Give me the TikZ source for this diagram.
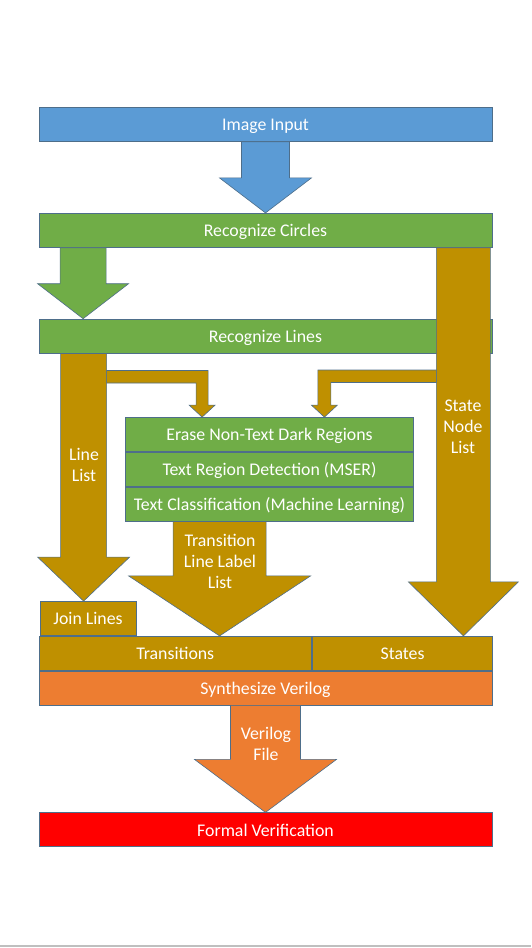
\documentclass[tikz,border=0pt]{standalone}
\usepackage{fontspec}
\setmainfont{Carlito}
\usepackage{xcolor}
\usepackage{tikz}
\usetikzlibrary{positioning, calc}

\definecolor{officeblue}{HTML}{5B9BD5}
\definecolor{officegreen}{HTML}{70AD47}
\definecolor{officegold}{HTML}{BF9000}
\definecolor{officeorange}{HTML}{ED7D31}
\definecolor{officered}{HTML}{FF0000}
\definecolor{edge}{HTML}{4E6E8A}

% straight block arrow going down: x from #2, tip at y of #3
\newcommand{\blockarrow}[6][]{%
	\draw[arrowbody,#1] let \p1=#2, \p2=#3 in
		(\x1-#4,\y1) -- (\x1+#4,\y1) -- (\x1+#4,\y2+#6) -- (\x1+#5,\y2+#6)
		-- (\x1,\y2) -- (\x1-#5,\y2+#6) -- (\x1-#4,\y2+#6) -- cycle;}
% bent block arrow: bar from #2 sideways, then down to tip #3
\newcommand{\elbowarrow}[5][]{%
	\draw[arrowbody,#1] let \p1=#2, \p2=#3 in
		(\x1,\y1) -- ({\x2+(#4)},\y1) -- ({\x2+(#4)},{\y2+12}) -- ({\x2+(#5)},{\y2+12})
		-- (\x2,\y2) -- ({\x2-(#5)},{\y2+12}) -- ({\x2-(#4)},{\y2+12})
		-- ({\x2-(#4)},{\y1-12.5}) -- (\x1,{\y1-12.5}) -- cycle;}

\begin{document}
\begin{tikzpicture}[x=1pt, y=-1pt]
		\tikzset{
			bar/.style={rectangle, draw=edge, line width=0.8pt, text=white, inner sep=0pt,
			text height=14pt, text depth=1.6pt,
			minimum width=453, minimum height=34, font=\fontsize{17.8}{21}\selectfont},
			stackbox/.style={bar, fill=officegreen, minimum width=288},
			arrowbody/.style={draw=edge, line width=0.6pt, fill=officegold},
			armtext/.style={text=white, align=center, inner sep=0pt, font=\fontsize{17.8}{21}\selectfont}
		}
		\useasboundingbox (0,0) rectangle (531,948);

		\node[bar, fill=officeblue](input) at (265.5,124.5){Image Input};
		\node[bar, fill=officegreen, below=71pt of input](circles){Recognize Circles};
		\node[bar, fill=officegreen, below=71pt of circles](lines){Recognize Lines};

		\node[stackbox](erase) at (269.5,434.5){Erase Non-Text Dark Regions};
		\node[stackbox, below=0pt of erase](mser){Text Region Detection (MSER)};
		\node[stackbox, below=0pt of mser](classify){Text Classification (Machine Learning)};

		\node[bar, fill=officegold, minimum width=272.5](transitions) at (175.25,653.3){Transitions};
		\node[bar, fill=officegold, minimum width=180.5, right=0pt of transitions](states){States};
		\node[bar, fill=officegold, minimum width=96, anchor=south west](joinlines)
			at ($(transitions.north west)+(1,0)$){Join Lines};
		\node[bar, fill=officeorange](synth) at (265.5,688){Synthesize Verilog};
		\node[bar, fill=officered, below=107pt of synth](formal){Formal Verification};

		\blockarrow[fill=officeblue]{(input.south)}{(circles.north)}{24}{46}{35}
		\blockarrow[fill=officegreen]{($(circles.south west)+(44.5,0)$)}{(lines.north)}{23}{45.5}{35}
		\blockarrow{($(lines.south west)+(45,0)$)}{(joinlines.north)}{23}{46}{44}
		\blockarrow{($(circles.south east)+(-29,0)$)}{(states.north)}{27}{55}{54}
		\blockarrow{($(classify.south west)+(94.5,0)$)}{(transitions.north)}{46.5}{91}{60}
		\blockarrow[fill=officeorange]{(synth.south)}{(formal.north)}{35}{71}{53}
		\elbowarrow{($(lines.south west)+(68,17)$)}{($(erase.north west)+(77,0)$)}{6}{13}
		\elbowarrow{($(lines.south east)+(-56,16.5)$)}{($(erase.north east)+(-89.5,0)$)}{-6.5}{-13}

		\node[armtext](linelist) at (84,465){Line\\List};
		\node[armtext](statelist) at (463,427){State\\Node\\List};
		\node[armtext](labellist) at (220,561){Transition\\Line Label\\List};
		\node[armtext](verilogfile) at (266,744){Verilog\\File};

		\draw[black!25, line width=1.5pt](0,946) -- (531,946);
	\end{tikzpicture}
\end{document}
